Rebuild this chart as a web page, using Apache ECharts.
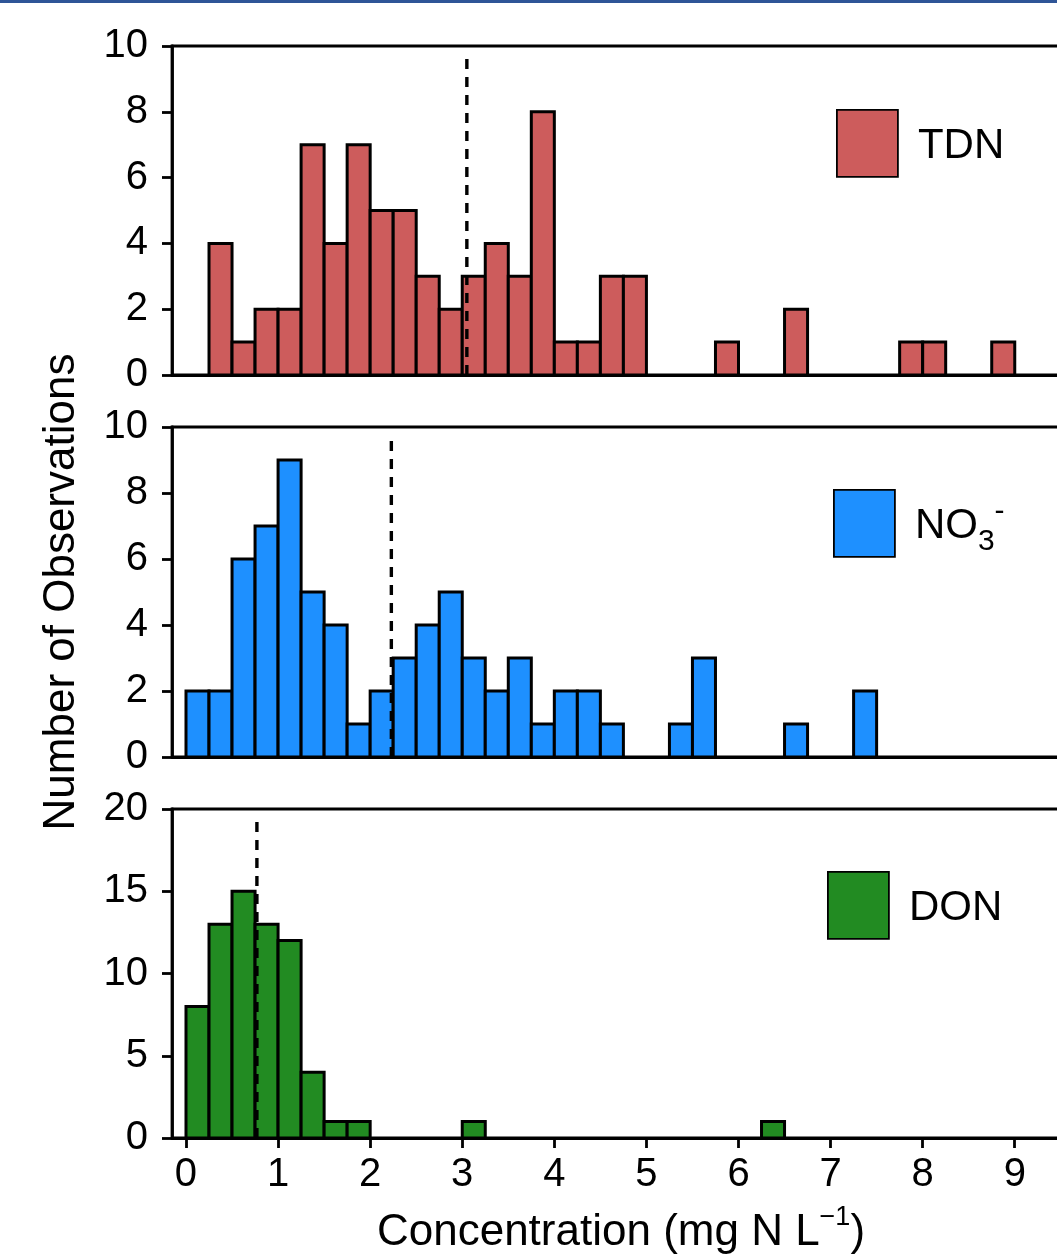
<!DOCTYPE html>
<html>
<head>
<meta charset="utf-8">
<script src="https://cdn.jsdelivr.net/npm/echarts@6/dist/echarts.min.js"></script>
<style>
  html, body { margin: 0; padding: 0; background: #fff; }
  #chart { width: 1057px; height: 1254px; }
  #topBar { position: absolute; left: 0; top: 0; width: 1057px; height: 3px; background: #2F5597; }
</style>
</head>
<body>
<div id="chart"></div>
<div id="topBar"></div>
<script>
// histogram bins: left edge of each non-empty bin (mg N/L) and its count
var binWidth = 0.25;
var xTicks = [0, 1, 2, 3, 4, 5, 6, 7, 8, 9];

var tdnStarts = [0.25, 0.5, 0.75, 1.0, 1.25, 1.5, 1.75, 2.0, 2.25, 2.5, 2.75, 3.0, 3.25, 3.5, 3.75, 4.0, 4.25, 4.5, 4.75, 5.75, 6.5, 7.75, 8.0, 8.75];
var tdnCounts = [4, 1, 2, 2, 7, 4, 7, 5, 5, 3, 2, 3, 4, 3, 8, 1, 1, 3, 3, 1, 2, 1, 1, 1];

var no3Starts = [0, 0.25, 0.5, 0.75, 1.0, 1.25, 1.5, 1.75, 2.0, 2.25, 2.5, 2.75, 3.0, 3.25, 3.5, 3.75, 4.0, 4.25, 4.5, 5.25, 5.5, 6.5, 7.25];
var no3Counts = [2, 2, 6, 7, 9, 5, 4, 1, 2, 3, 4, 5, 3, 2, 3, 1, 2, 2, 1, 1, 3, 1, 2];

var donStarts = [0, 0.25, 0.5, 0.75, 1.0, 1.25, 1.5, 1.75, 3.0, 6.25];
var donCounts = [8, 13, 15, 13, 12, 4, 1, 1, 1, 1];

// mean concentration (dashed line) and how far up the line goes
var panelNames = ['TDN', 'NO3', 'DON'];
var panelColors = ['#CD5C5C', '#1E90FF', '#228B22'];
var meanValues = [3.05, 2.23, 0.77];
var meanLineTops = [9.7, 9.7, 19.5];
var yMaxes = [10, 10, 20];
var ySteps = [2, 2, 5];

var FONT = '"Liberation Sans", Arial, sans-serif';
var AXIS_LINE = { color: '#000', width: 2.8 };

var chart = echarts.init(document.getElementById('chart'));

function toBins(starts, counts) {
  return starts.map(function (s, i) {
    return [s, s + binWidth, counts[i]];
  });
}

var binData = [
  toBins(tdnStarts, tdnCounts),
  toBins(no3Starts, no3Counts),
  toBins(donStarts, donCounts)
];

function renderBin(params, api) {
  var lo = api.coord([api.value(0), 0]);
  var hi = api.coord([api.value(1), api.value(2)]);
  return {
    type: 'rect',
    shape: { x: lo[0], y: hi[1], width: hi[0] - lo[0], height: lo[1] - hi[1] },
    style: { fill: api.visual('color'), stroke: '#000', lineWidth: 3 }
  };
}

var gridTops = [46, 427, 809];
var gridHeights = [329, 330, 329];

var grids = gridTops.map(function (t, i) {
  return {
    left: 172, top: t, width: 898, height: gridHeights[i],
    show: true, borderColor: '#000', borderWidth: 2.8,
    backgroundColor: 'transparent',
    outerBoundsMode: 'none'
  };
});

var xAxes = [0, 1, 2].map(function (i) {
  var last = i === 2;
  return {
    type: 'value', gridIndex: i, min: -0.152, max: 9.6,
    axisLine: { show: true, onZero: false, lineStyle: AXIS_LINE },
    axisTick: { show: last, length: 10, customValues: xTicks, lineStyle: AXIS_LINE },
    axisLabel: { show: last, customValues: xTicks, margin: 17, fontSize: 40, color: '#000', fontFamily: FONT },
    splitLine: { show: false },
    name: last ? '{t|Concentration (mg N L}{s|\u22121}{t|)}' : '',
    nameLocation: 'middle',
    nameGap: 66,
    nameMoveOverlap: false,
    nameTextStyle: {
      rich: {
        t: { fontSize: 44, lineHeight: 58, color: '#000', fontFamily: FONT },
        s: { fontSize: 27, lineHeight: 27, verticalAlign: 'top', color: '#000', fontFamily: FONT }
      }
    }
  };
});

var yAxes = [0, 1, 2].map(function (i) {
  return {
    type: 'value', gridIndex: i, min: 0, max: yMaxes[i], interval: ySteps[i],
    axisLine: { show: true, onZero: false, lineStyle: AXIS_LINE },
    axisTick: { show: true, length: 10, lineStyle: AXIS_LINE },
    axisLabel: { margin: 24, fontSize: 40, color: '#000', fontFamily: FONT },
    splitLine: { show: false },
    name: i === 1 ? 'Number of Observations' : '',
    nameLocation: 'middle',
    nameGap: 88,
    nameMoveOverlap: false,
    nameTextStyle: { fontSize: 44, color: '#000', fontFamily: FONT }
  };
});

var series = [];
[0, 1, 2].forEach(function (i) {
  series.push({
    name: panelNames[i],
    type: 'custom',
    xAxisIndex: i, yAxisIndex: i,
    renderItem: renderBin,
    encode: { x: [0, 1], y: 2 },
    itemStyle: { color: panelColors[i], borderColor: '#000', borderWidth: 3 },
    data: binData[i],
    z: 2,
    silent: true
  });
  series.push({
    name: panelNames[i] + ' mean',
    type: 'line',
    xAxisIndex: i, yAxisIndex: i,
    symbol: 'none',
    lineStyle: { color: '#000', width: 3.4, type: [10, 8] },
    data: [[meanValues[i], 0], [meanValues[i], meanLineTops[i]]],
    z: 5,
    silent: true
  });
});

var legendBase = {
  orient: 'horizontal',
  padding: 0,
  itemWidth: 61,
  itemHeight: 67,
  icon: 'rect',
  selectedMode: false,
  itemStyle: { borderColor: '#000', borderWidth: 1.8 },
  textStyle: {
    fontSize: 42, color: '#000', fontFamily: FONT, padding: [6, 0, 0, 15],
    rich: {
      m: { fontSize: 42, lineHeight: 60, color: '#000', fontFamily: FONT },
      sub: { fontSize: 30, lineHeight: 30, verticalAlign: 'bottom', color: '#000', fontFamily: FONT },
      sup: { fontSize: 30, lineHeight: 30, verticalAlign: 'top', color: '#000', fontFamily: FONT }
    }
  },
  formatter: function (name) {
    if (name === 'NO3') {
      return '{m|NO}{sub|3}{sup|-}';
    }
    return name;
  }
};

var legendPos = [[836, 109], [833, 489], [827, 871]];
var legends = legendPos.map(function (p, i) {
  return Object.assign({}, legendBase, { left: p[0], top: p[1], data: [panelNames[i]] });
});

chart.setOption({
  animation: false,
  backgroundColor: '#fff',
  grid: grids,
  xAxis: xAxes,
  yAxis: yAxes,
  legend: legends,
  series: series
});
</script>
</body>
</html>
